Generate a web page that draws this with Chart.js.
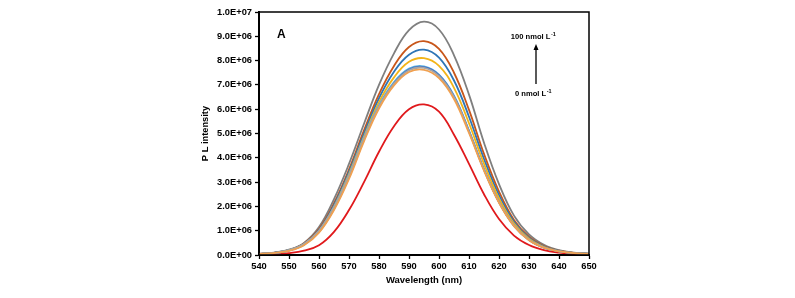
<!DOCTYPE html>
<html>
<head>
<meta charset="utf-8">
<script src="https://cdn.jsdelivr.net/npm/chart.js@4/dist/chart.umd.min.js"></script>
<style>
  html, body { margin: 0; padding: 0; background: #fff; }
  #wrap { width: 795px; height: 298px; }
</style>
</head>
<body>
<div id="wrap"><canvas id="c"></canvas></div>
<script>
// wavelength (nm), intensities in units of 1E+06
const wavelengths = [540, 545, 550, 555, 560, 565, 570, 575, 580, 585, 590, 595, 600, 605, 610, 615, 620, 625, 630, 635, 640, 645, 650];

const conc0 = [0.02, 0.04, 0.08, 0.18, 0.40, 0.95, 1.85, 3.00, 4.25, 5.30, 6.00, 6.20, 5.90, 4.95, 3.75, 2.50, 1.48, 0.80, 0.41, 0.20, 0.10, 0.05, 0.03];
const concA = [0.04, 0.08, 0.17, 0.40, 0.92, 1.85, 3.13, 4.68, 6.03, 6.98, 7.53, 7.62, 7.28, 6.42, 5.02, 3.47, 2.15, 1.19, 0.61, 0.30, 0.15, 0.08, 0.05];
const concB = [0.05, 0.09, 0.20, 0.45, 1.00, 1.97, 3.28, 4.80, 6.12, 7.05, 7.60, 7.70, 7.36, 6.50, 5.08, 3.50, 2.18, 1.22, 0.63, 0.31, 0.15, 0.08, 0.05];
const concC = [0.04, 0.08, 0.18, 0.42, 0.95, 1.90, 3.20, 4.75, 6.10, 7.07, 7.63, 7.73, 7.40, 6.53, 5.10, 3.52, 2.18, 1.21, 0.62, 0.30, 0.15, 0.08, 0.05];
const concD = [0.04, 0.08, 0.19, 0.44, 0.98, 1.95, 3.27, 4.82, 6.17, 7.12, 7.67, 7.76, 7.42, 6.56, 5.12, 3.52, 2.17, 1.20, 0.62, 0.30, 0.15, 0.08, 0.05];
const concE = [0.04, 0.08, 0.19, 0.44, 0.99, 1.98, 3.33, 4.87, 6.29, 7.31, 7.95, 8.10, 7.78, 6.88, 5.42, 3.75, 2.33, 1.29, 0.67, 0.33, 0.16, 0.08, 0.05];
const concF = [0.04, 0.09, 0.20, 0.45, 1.03, 2.06, 3.43, 5.00, 6.45, 7.54, 8.24, 8.45, 8.12, 7.18, 5.69, 3.95, 2.46, 1.37, 0.71, 0.35, 0.17, 0.09, 0.05];
const concG = [0.05, 0.09, 0.20, 0.47, 1.07, 2.13, 3.52, 5.13, 6.62, 7.78, 8.56, 8.80, 8.48, 7.50, 5.97, 4.16, 2.61, 1.44, 0.75, 0.37, 0.18, 0.09, 0.05];
const conc100 = [0.05, 0.10, 0.22, 0.50, 1.15, 2.30, 3.75, 5.40, 7.00, 8.30, 9.25, 9.60, 9.28, 8.22, 6.60, 4.62, 2.92, 1.62, 0.85, 0.42, 0.20, 0.10, 0.06];

const seriesList = [
  { data: concA, color: '#F0A050' },
  { data: concB, color: '#A5A5A5' },
  { data: concC, color: '#4472C4' },
  { data: concD, color: '#5BB5E5' },
  { data: concE, color: '#F2B418' },
  { data: concF, color: '#2E75B6' },
  { data: concG, color: '#C8561A' },
  { data: conc100, color: '#7F7F7F' },
  { data: conc0, color: '#E0191C' }
];

const FONT = 'Liberation Sans, Arial, sans-serif';

function sci(v) {
  const [m, e] = (v * 1e6).toExponential(1).split('e');
  return m + 'E' + e[0] + e.slice(1).padStart(2, '0');
}

const frame = {
  id: 'frame',
  afterDraw(chart) {
    const { ctx, chartArea: a } = chart;
    ctx.save();
    ctx.strokeStyle = '#000';
    ctx.lineWidth = 1.5;
    ctx.strokeRect(a.left, a.top, a.right - a.left, a.bottom - a.top);

    ctx.fillStyle = '#000';
    ctx.font = 'bold 12px ' + FONT;
    ctx.textBaseline = 'alphabetic';
    ctx.fillText('A', 277, 38);

    // concentration labels
    const label = (txt, cx, y) => {
      ctx.font = 'bold 7.6px ' + FONT;
      const w1 = ctx.measureText(txt).width;
      ctx.font = 'bold 5.5px ' + FONT;
      const w2 = ctx.measureText('-1').width;
      const x0 = cx - (w1 + w2) / 2;
      ctx.font = 'bold 7.6px ' + FONT;
      ctx.fillText(txt, x0, y);
      ctx.font = 'bold 5.5px ' + FONT;
      ctx.fillText('-1', x0 + w1 + 0.5, y - 3);
    };
    label('100 nmol L', 533, 39);
    label('0 nmol L', 533, 96);

    // arrow
    ctx.lineWidth = 1.3;
    ctx.beginPath();
    ctx.moveTo(536, 84);
    ctx.lineTo(536, 49);
    ctx.stroke();
    ctx.beginPath();
    ctx.moveTo(536, 44);
    ctx.lineTo(533.5, 50);
    ctx.lineTo(538.5, 50);
    ctx.closePath();
    ctx.fill();
    ctx.restore();
  }
};

new Chart(document.getElementById('c'), {
  type: 'line',
  data: {
    datasets: seriesList.map((s) => ({
      data: wavelengths.map((w, i) => ({ x: w, y: s.data[i] })),
      borderColor: s.color,
      borderWidth: 1.8,
      pointRadius: 0,
      fill: false,
      tension: 0.4
    }))
  },
  options: {
    responsive: true,
    maintainAspectRatio: false,
    animation: false,
    events: [],
    layout: { padding: { left: 198, right: 206, top: 12, bottom: 0 } },
    plugins: { legend: { display: false }, tooltip: { enabled: false } },
    scales: {
      x: {
        type: 'linear',
        min: 540,
        max: 650,
        afterFit: (s) => { s.height = 43; },
        grid: { drawOnChartArea: false, color: '#000', tickLength: 4, tickWidth: 1.3 },
        border: { color: '#000', width: 2 },
        ticks: {
          stepSize: 10,
          padding: 2,
          color: '#000',
          font: { family: FONT, size: 9.3, weight: 'bold' }
        },
        title: {
          display: true,
          text: 'Wavelength (nm)',
          color: '#000',
          padding: { top: 0, bottom: 12 },
          font: { family: FONT, size: 9.5, weight: 'bold' }
        }
      },
      y: {
        min: 0,
        max: 10,
        afterFit: (s) => { s.width = 61; },
        grid: { drawOnChartArea: false, color: '#000', tickLength: 4, tickWidth: 1.3 },
        border: { color: '#000', width: 2 },
        ticks: {
          stepSize: 1,
          padding: 3,
          color: '#000',
          callback: (v) => sci(v),
          font: { family: FONT, size: 9.3, weight: 'bold' }
        },
        title: {
          display: true,
          text: 'P L intensity',
          color: '#000',
          padding: { top: 2, bottom: 0 },
          font: { family: FONT, size: 9.3, weight: 'bold' }
        }
      }
    }
  },
  plugins: [frame]
});
</script>
</body>
</html>
